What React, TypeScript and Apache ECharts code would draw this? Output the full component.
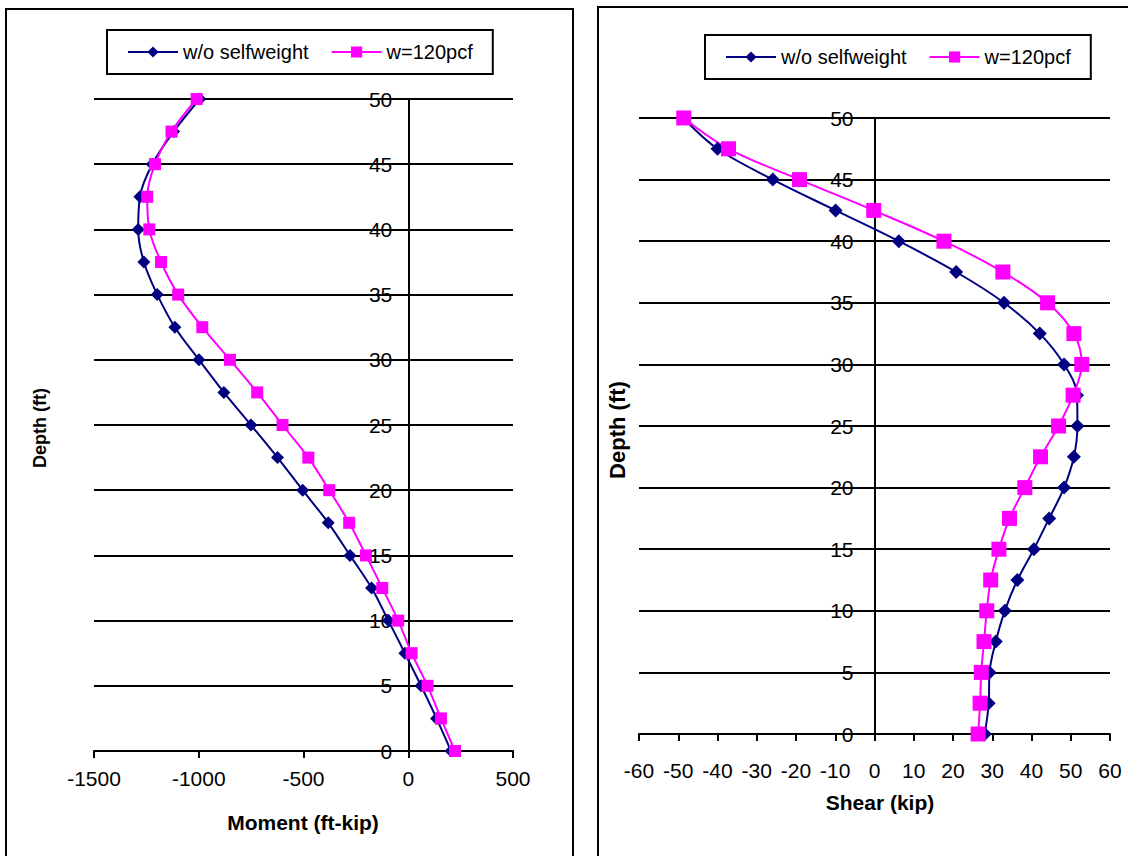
import React, { useEffect, useRef } from "react";
import * as echarts from "echarts";

const depths = [0, 2.5, 5, 7.5, 10, 12.5, 15, 17.5, 20, 22.5, 25, 27.5, 30, 32.5, 35, 37.5, 40, 42.5, 45, 47.5, 50];

const momentNoSelfWeight = [204, 135, 61, -16, -95, -175, -278, -382, -504, -624, -751, -880, -999, -1114, -1198, -1262, -1289, -1281, -1222, -1120, -995];
const momentSelfWeight = [223, 156, 92, 16, -48, -124, -202, -282, -377, -477, -600, -721, -851, -983, -1098, -1180, -1236, -1246, -1209, -1130, -1010];

const shearNoSelfWeight = [28.1, 29.1, 29.3, 30.9, 33.2, 36.4, 40.6, 44.5, 48.3, 50.8, 51.7, 51.6, 48.3, 42.1, 33.0, 20.8, 6.2, -9.9, -25.9, -40.0, -48.7];
const shearSelfWeight = [26.4, 26.9, 27.2, 27.9, 28.6, 29.6, 31.7, 34.4, 38.3, 42.3, 46.9, 50.6, 52.8, 50.8, 44.1, 32.7, 17.7, -0.2, -19.1, -37.2, -48.6];

const seriesNames = ["w/o selfweight", "w=120pcf"];
const momentAxis = { min: -1500, max: 500, interval: 500 };
const shearAxis = { min: -60, max: 60, interval: 10 };
const depthAxis = { min: 0, max: 50, interval: 5 };

const FONT = "'Liberation Sans', Arial, sans-serif";
const BLUE = "#000080";
const PINK = "#FF00FF";

const GRID_L = { left: 94, top: 99, width: 419, height: 652 };
const GRID_R = { left: 639, top: 118, width: 471, height: 616 };

const pair = (xs: number[], ys: number[]) => xs.map((x, i) => [x, ys[i]]);
const plain = (v: number) => String(v);
// distance from the grid's left edge to the x = 0 position (the y-axis crosses there)
const zeroOffset = (grid: { width: number }, r: { min: number; max: number }) =>
  -(grid.width * (0 - r.min)) / (r.max - r.min);

function xAxisCfg(grid: number, range: any, fontSize: number, margin: number) {
  return {
    gridIndex: grid,
    type: "value",
    position: "bottom",
    ...range,
    axisLine: { show: true, onZero: false, lineStyle: { color: "#000", width: 2 } },
    axisTick: { show: true, inside: false, length: 7, lineStyle: { color: "#000", width: 2 } },
    axisLabel: { color: "#000", fontSize, fontFamily: FONT, margin, formatter: plain },
    splitLine: { show: false },
  };
}

function yAxisCfg(grid: number, offset: number, fontSize: number, margin: number) {
  return {
    gridIndex: grid,
    type: "value",
    position: "left",
    offset,
    ...depthAxis,
    axisLine: { show: true, onZero: false, lineStyle: { color: "#000", width: 2 } },
    axisTick: { show: true, inside: false, length: 7, lineStyle: { color: "#000", width: 2 } },
    axisLabel: { color: "#000", fontSize, fontFamily: FONT, margin, formatter: plain },
    splitLine: { show: true, lineStyle: { color: "#000", width: 2 } },
  };
}

function lineSeries(name: string, grid: number, xs: number[], color: string, symbol: string, size: number) {
  return {
    type: "line",
    name,
    xAxisIndex: grid,
    yAxisIndex: grid,
    data: pair(xs, depths),
    smooth: 0.35,
    clip: false,
    symbol,
    symbolSize: size,
    showAllSymbol: true,
    itemStyle: { color },
    lineStyle: { color, width: 2 },
    emphasis: { disabled: true },
  };
}

function legendCfg(left: number, top: number, fontSize: number) {
  return {
    data: seriesNames,
    left,
    top,
    orient: "horizontal",
    itemWidth: 50,
    itemHeight: 14,
    itemGap: 22,
    padding: [12, 20, 12, 20],
    borderColor: "#000",
    borderWidth: 2,
    backgroundColor: "#fff",
    textStyle: { color: "#000", fontSize, fontFamily: FONT },
  };
}

export default function App() {
  const ref = useRef<HTMLDivElement>(null);
  useEffect(() => {
    document.body.style.margin = "0";
    const chart = echarts.init(ref.current!, null, { renderer: "svg" });
    chart.setOption({
      animation: false,
      backgroundColor: "#fff",
      textStyle: { fontFamily: FONT },
      grid: [GRID_L, GRID_R],
      xAxis: [xAxisCfg(0, momentAxis, 21, 17), xAxisCfg(1, shearAxis, 21, 26)],
      yAxis: [
        yAxisCfg(0, zeroOffset(GRID_L, momentAxis), 21, 16),
        yAxisCfg(1, zeroOffset(GRID_R, shearAxis), 21, 21),
      ],
      legend: [legendCfg(107, 30, 20), legendCfg(705, 35, 20)],
      series: [
        lineSeries(seriesNames[0], 0, momentNoSelfWeight, BLUE, "diamond", 13),
        lineSeries(seriesNames[1], 0, momentSelfWeight, PINK, "rect", 12),
        lineSeries(seriesNames[0], 1, shearNoSelfWeight, BLUE, "diamond", 14),
        lineSeries(seriesNames[1], 1, shearSelfWeight, PINK, "rect", 15),
      ],
      graphic: [
        { type: "rect", silent: true, z: -10, shape: { x: 6, y: 9, width: 567, height: 900 }, style: { fill: "none", stroke: "#000", lineWidth: 2 } },
        { type: "rect", silent: true, z: -10, shape: { x: 598, y: 7, width: 600, height: 900 }, style: { fill: "none", stroke: "#000", lineWidth: 2 } },
        { type: "text", x: 303, y: 822, style: { text: "Moment (ft-kip)", fontSize: 21, fontWeight: "bold", fontFamily: FONT, fill: "#000", align: "center", verticalAlign: "middle", textAlign: "center", textVerticalAlign: "middle" } },
        { type: "text", x: 880, y: 802, style: { text: "Shear (kip)", fontSize: 21, fontWeight: "bold", fontFamily: FONT, fill: "#000", align: "center", verticalAlign: "middle", textAlign: "center", textVerticalAlign: "middle" } },
        { type: "text", x: 40, y: 428, rotation: Math.PI / 2, style: { text: "Depth (ft)", fontSize: 18, fontWeight: "bold", fontFamily: FONT, fill: "#000", align: "center", verticalAlign: "middle", textAlign: "center", textVerticalAlign: "middle" } },
        { type: "text", x: 617, y: 430, rotation: Math.PI / 2, style: { text: "Depth (ft)", fontSize: 22, fontWeight: "bold", fontFamily: FONT, fill: "#000", align: "center", verticalAlign: "middle", textAlign: "center", textVerticalAlign: "middle" } },
      ],
    });
    return () => chart.dispose();
  }, []);
  return <div ref={ref} style={{ width: 1128, height: 856 }} />;
}
